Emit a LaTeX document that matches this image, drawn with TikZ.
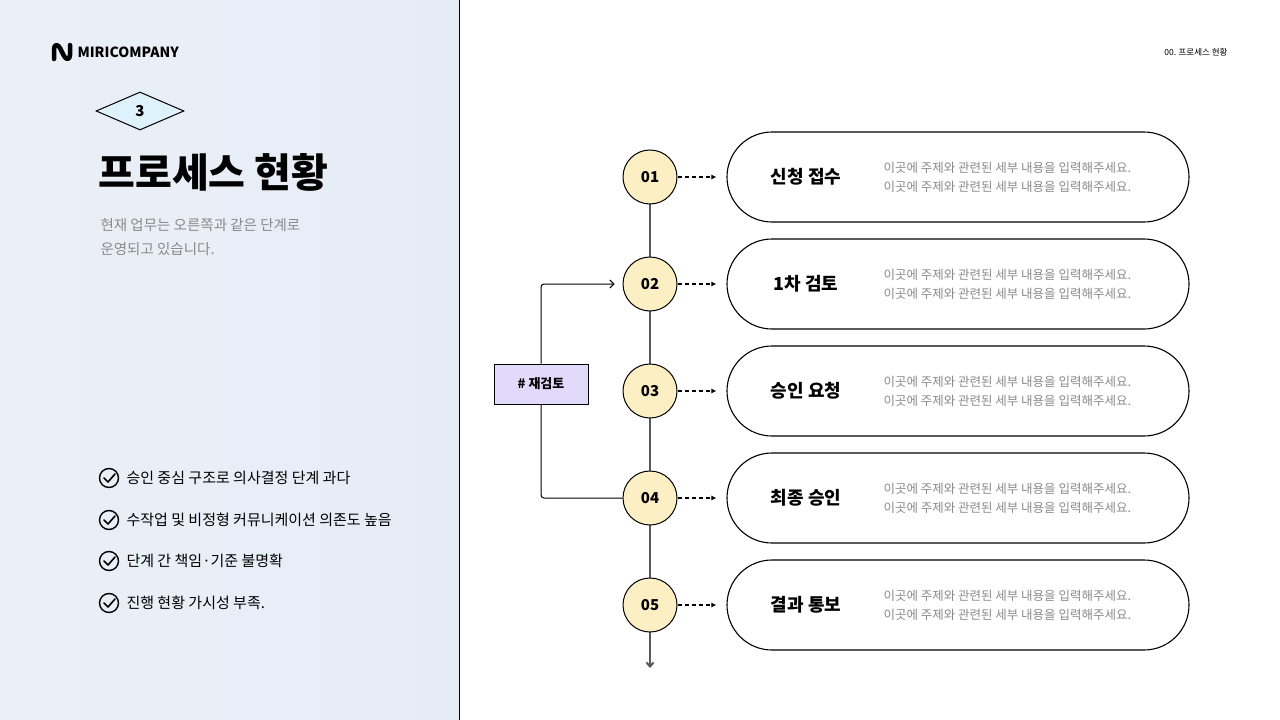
\documentclass[tikz,border=0pt]{standalone}
\usepackage{fontspec}
\setmainfont{Noto Sans CJK KR}
\usetikzlibrary{arrows.meta,shapes.geometric}
\definecolor{panel}{HTML}{E6ECF6}
\definecolor{circ}{HTML}{FDEFC4}
\definecolor{rev}{HTML}{E1DAFA}
\definecolor{dia}{HTML}{DDF2FB}
\definecolor{gr}{HTML}{8A8A8A}
\tikzset{
 stepc/.style={circle,draw=black,line width=1pt,fill=circ,minimum size=54pt,inner sep=0,font=\fontsize{15}{15}\selectfont\bfseries},
 pill/.style={draw=black,line width=1.1pt,rounded corners=45pt,minimum width=462pt,minimum height=90pt},
 ttl/.style={font=\fontsize{18}{18}\selectfont\bfseries,anchor=center},
 desc/.style={font=\fontsize{12.5}{19}\selectfont,text=gr,align=left,anchor=west},
 chk/.style={circle,draw=black,line width=1.4pt,minimum size=19pt,inner sep=0},
 item/.style={font=\fontsize{15}{15}\selectfont,anchor=west},
 dasharr/.style={line width=1.4pt,dash pattern=on 4pt off 3pt,-{Latex[length=5pt,width=5pt]}},
}
\begin{document}
\begin{tikzpicture}[x=1pt,y=-1pt]
\useasboundingbox (0,0) rectangle (1280,720);
\fill[white] (0,0) rectangle (1280,720);
\shade[left color=panel!80!white,right color=panel] (0,0) rectangle (459,720);
\draw[line width=1pt] (459,0) -- (459,720);
% logo
\draw[line width=4.5pt,line cap=round,line join=round] (54,59) -- (54,49) .. controls (54,44) and (58,44) .. (60,48) -- (64,56) .. controls (66,60) and (70,60) .. (70,55) -- (70,45);
\node[anchor=west,font=\fontsize{14}{14}\selectfont\bfseries] (brand) at (74,52) {MIRICOMPANY};
\node[anchor=east,font=\fontsize{8.5}{8.5}\selectfont] (hdr) at (1231,52) {00. 프로세스 현황};
% diamond
\node[diamond,draw=black,fill=dia,line width=1pt,minimum width=88pt,minimum height=38pt,inner sep=0,aspect=2.3,font=\fontsize{15}{15}\selectfont\bfseries] (num) at (140,111) {3};
\node[anchor=west,font=\fontsize{40}{40}\selectfont\bfseries] (title) at (95,172) {프로세스 현황};
\node[anchor=north west,font=\fontsize{14.5}{24}\selectfont,text=gr,align=left] (sub) at (97,215) {현재 업무는 오른쪽과 같은 단계로\\운영되고 있습니다.};
% checklist
\foreach \y/\t [count=\i] in {478/승인 중심 구조로 의사결정 단계 과다,520/수작업 및 비정형 커뮤니케이션 의존도 높음,561/단계 간 책임·기준 불명확,603/진행 현황 가시성 부족.}{
 \node[chk] (c\i) at (109,\y) {};
 \draw[line width=1.6pt,line cap=round,line join=round] (104,\y) -- (108,\y+4) -- (115,\y-4);
 \node[item] (t\i) at (123,\y) {\t};
}
% steps
\foreach \y/\t [count=\i] in {177/신청 접수,284/1차 검토,391/승인 요청,498/최종 승인,605/결과 통보}{
 \node[pill] (p\i) at (958,\y) {};
 \node[ttl] (h\i) at (806,\y) {\t};
 \node[desc] (d\i) at (880,\y) {이곳에 주제와 관련된 세부 내용을 입력해주세요.\\이곳에 주제와 관련된 세부 내용을 입력해주세요.};
}
\coordinate (end) at (650,668);
\draw[line width=2pt,draw=black!65,-{Straight Barb[length=4pt,width=7pt]}] (650,177) -- (end);
\foreach \y/\n [count=\i] in {177/01,284/02,391/03,498/04,605/05}{
 \node[stepc] (s\i) at (650,\y) {\n};
 \draw[dasharr] (s\i.east) -- ([xshift=-10pt]p\i.west);
}
\node[draw=black,fill=rev,line width=1pt,minimum width=94pt,minimum height=40pt,font=\fontsize{13}{13}\selectfont\bfseries] (rv) at (541,384) {\# 재검토};
\draw[line width=1pt,rounded corners=3pt,-{Straight Barb[length=4pt,width=8pt]}] (rv.north) |- ([xshift=-8pt]s2.west);
\draw[line width=1pt,rounded corners=3pt] (rv.south) |- (s4.west);
\end{tikzpicture}
\end{document}
